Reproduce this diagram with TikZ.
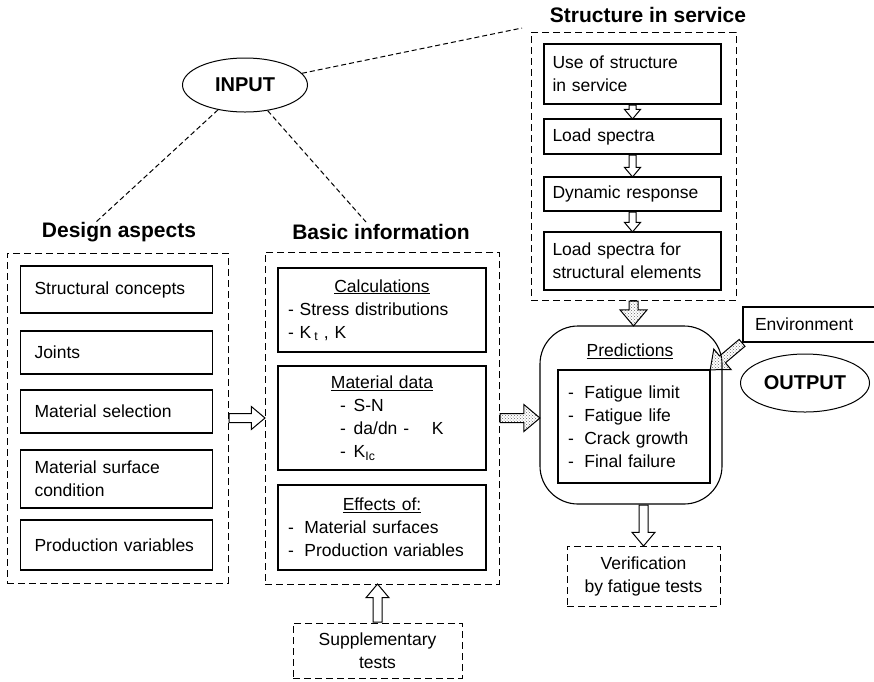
\documentclass[tikz,border=0pt]{standalone}
\usepackage{fontspec}
\setmainfont{Liberation Sans}
\usetikzlibrary{calc,shapes.geometric,shapes.arrows,patterns,positioning}

% block arrow from one point to another
\newcommand{\blockarrow}[3][]{%
  \path let \p1=(#2), \p2=(#3),
    \n1={veclen(\x2-\x1,\y2-\y1)},
    \n2={atan2(\y2-\y1,\x2-\x1)} in
    node[fatarrow,#1,minimum height=\n1,rotate=\n2,anchor=tail] at (\p1) {};}

\begin{document}
\begin{tikzpicture}[
  x=1pt, y=-1pt,
  font=\fontsize{17.5}{23}\selectfont,
  box/.style={
    draw,
    line width=1.1pt,
    rectangle,
    inner sep=0pt
    },
  dashbox/.style={
    draw,
    line width=1pt,
    dash pattern=on 7pt off 4pt,
    inner sep=0pt
    },
  dbox/.style={box, minimum width=192pt, text width=164pt, align=left},
  bbox/.style={box, minimum width=208pt, text width=188pt, align=left},
  sbox/.style={box, minimum width=177pt, text width=160pt, align=left},
  title/.style={font=\fontsize{21}{24}\selectfont\bfseries},
  oval/.style={
    draw,
    ellipse,
    line width=1pt,
    inner sep=0pt,
    font=\fontsize{20}{22}\selectfont\bfseries
    },
  link/.style={line width=1pt, dash pattern=on 5pt off 3pt},
  fatarrow/.style={
    single arrow,
    draw,
    fill=white,
    line width=1pt,
    inner xsep=0pt,
    inner ysep=4pt,
    minimum width=0pt,
    single arrow head extend=7pt,
    single arrow tip angle=80
    },
  dotarrow/.style={pattern=crosshatch dots, pattern color=black!60, single arrow head extend=9pt},
  smallarrow/.style={inner ysep=3pt, single arrow head extend=4.5pt}
]
\useasboundingbox (0,0) rectangle (874,681);

% titles and ovals
\node[title] (dtitle) at (119,232) {Design aspects};
\node[title] (btitle) at (381,232) {Basic information};
\node[title] (stitle) at (648,15) {Structure in service};

\node[oval, minimum width=125pt, minimum height=54pt] (input) at (245,85) {INPUT};
\node[oval, minimum width=129pt, minimum height=58pt] (output) at (805,383) {OUTPUT};

\coordinate (dend) at (96,222);
\coordinate (bend) at (366,222);
\coordinate (send) at (522,28);
\draw[link] (input) -- (dend);
\draw[link] (input) -- (bend);
\draw[link] (input) -- (send);

% design aspects
\node[dashbox, minimum width=221pt, minimum height=330pt] (design) at (117.5,418) {};
\node[dbox, minimum height=47pt] (concepts) at (116.5,289.5) {Structural concepts};
\node[dbox, minimum height=43pt] (joints) at (116.5,352.5) {Joints};
\node[dbox, minimum height=43pt] (selection) at (116.5,411.5) {Material selection};
\node[dbox, minimum height=58pt] (surface) at (116.5,479) {Material surface\\condition};
\node[dbox, minimum height=50pt] (prodvar) at (116.5,545) {Production variables};

% basic information
\node[dashbox, minimum width=234pt, minimum height=332pt] (basic) at (382,418) {};
\node[bbox, minimum height=84pt] (calcs) at (382,310)
  {{\centering\underline{Calculations}\par}
   - Stress distributions\\
   - K\,\textsubscript{t} , K};
\node[bbox, minimum height=104pt] (matdata) at (382,418)
  {{\centering\underline{Material data}\par}
   \hspace*{52pt}-\hspace{0.45em}S-N\\
   \hspace*{52pt}-\hspace{0.45em}da/dn -\hspace{1.3em}K\\
   \hspace*{52pt}-\hspace{0.45em}K\textsubscript{Ic}};
\node[bbox, minimum height=85pt] (effects) at (382,527.5)
  {{\centering\underline{Effects of:}\par}
   -\hspace{0.6em}Material surfaces\\
   -\hspace{0.6em}Production variables};

\node[dashbox, minimum width=169pt, minimum height=55pt, align=center] (supp) at (377.5,650.5)
  {Supplementary\\tests};

% structure in service
\node[dashbox, minimum width=205pt, minimum height=268pt] (sis) at (633.5,166) {};
\node[sbox, minimum height=60pt] (use) at (632.5,74) {Use of structure\\in service};
\node[sbox, minimum height=35pt] (load) at (632.5,136.5) {Load spectra};
\node[sbox, minimum height=34pt] (dyn) at (632.5,194) {Dynamic response};
\node[sbox, minimum height=58pt] (elem) at (632.5,261) {Load spectra for\\structural elements};

% predictions
\node[box, rounded corners=38pt, minimum width=182pt, minimum height=178pt] (pred) at (631,415) {};
\node (predtitle) at (630,351) {\underline{Predictions}};
\node[box, minimum width=152pt, minimum height=113pt, text width=132pt, align=left] (plist) at (634,426.5)
  {-\hspace{0.6em}Fatigue limit\\
   -\hspace{0.6em}Fatigue life\\
   -\hspace{0.6em}Crack growth\\
   -\hspace{0.6em}Final failure};
\node[box, minimum width=140pt, minimum height=35pt, text width=116pt, align=left] (env) at (813,324.5)
  {Environment};

\node[dashbox, minimum width=153pt, minimum height=60pt, align=center] (verif) at (643.5,576)
  {Verification\\by fatigue tests};

% arrows
\blockarrow[smallarrow]{use.south}{load.north}
\blockarrow[smallarrow]{load.south}{dyn.north}
\blockarrow[smallarrow]{dyn.south}{elem.north}
\blockarrow{design.east}{basic.west}
\blockarrow[dotarrow]{basic.east}{basic.east -| pred.west}
\blockarrow[dotarrow]{sis.south}{sis.south |- pred.north}
\blockarrow[dotarrow]{env.south west}{plist.north east}
\blockarrow{supp.north}{supp.north |- basic.south}
\blockarrow{verif.north |- pred.south}{verif.north}
\end{tikzpicture}
\end{document}
